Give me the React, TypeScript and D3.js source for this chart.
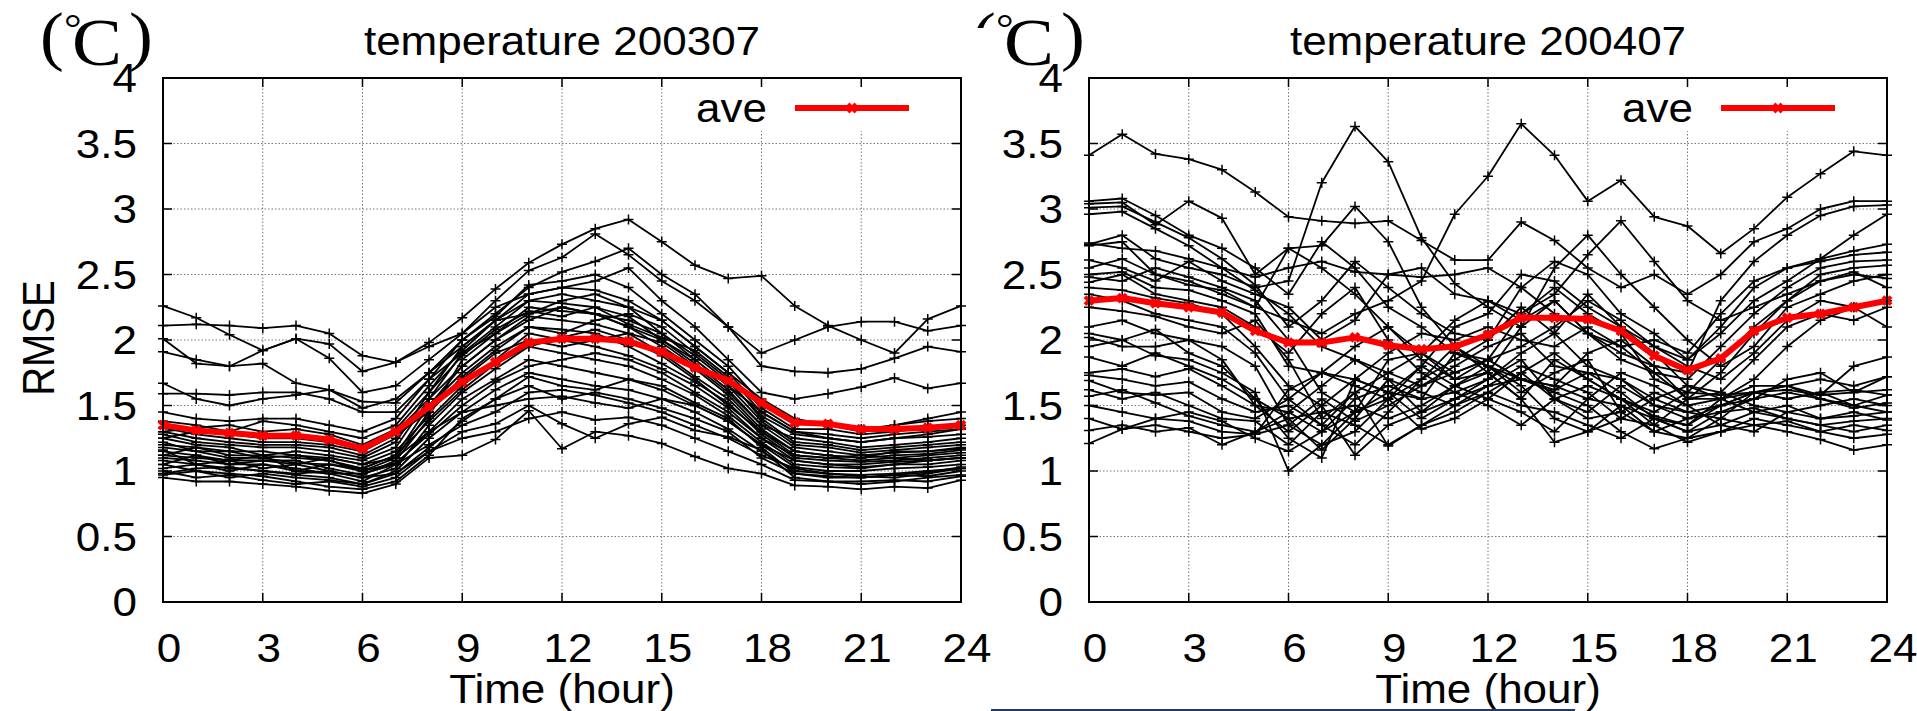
import React from 'react';
import * as d3 from 'd3';

// hours of the day on the x axis
const HOURS = [0, 1, 2, 3, 4, 5, 6, 7, 8, 9, 10, 11, 12, 13, 14, 15, 16, 17, 18, 19, 20, 21, 22, 23, 24];
const X_TICKS = [0, 3, 6, 9, 12, 15, 18, 21, 24];
const Y_TICKS = [0, 0.5, 1, 1.5, 2, 2.5, 3, 3.5, 4];
const Y_TICK_LABELS = ['0', '0.5', '1', '1.5', '2', '2.5', '3', '3.5', '4'];

const TITLE_2003 = 'temperature 200307';
const TITLE_2004 = 'temperature 200407';

// average RMSE (red line)
const AVE_2003 = [1.35, 1.31, 1.29, 1.27, 1.27, 1.24, 1.17, 1.3, 1.49, 1.68, 1.83, 1.98, 2.01, 2.01, 1.99, 1.91, 1.79, 1.69, 1.52, 1.37, 1.36, 1.32, 1.32, 1.33, 1.35];
const AVE_2004 = [2.3, 2.32, 2.28, 2.25, 2.21, 2.07, 1.98, 1.98, 2.02, 1.96, 1.93, 1.95, 2.04, 2.17, 2.17, 2.16, 2.07, 1.88, 1.77, 1.86, 2.07, 2.17, 2.2, 2.25, 2.3];

// RMSE of each station, July 2003
const STATIONS_2003 = [
  [2.26, 2.17, 2.04, 1.92, 2.01, 1.97, 1.76, 1.83, 1.95, 2.05, 2.3, 2.53, 2.63, 2.81, 2.65, 2.45, 2.3, 2.1, 1.9, 2.0, 2.1, 2.14, 2.14, 2.07, 2.11],
  [2.11, 2.12, 2.11, 2.09, 2.11, 2.05, 1.88, 1.83, 1.98, 2.17, 2.39, 2.59, 2.73, 2.85, 2.92, 2.75, 2.57, 2.47, 2.49, 2.26, 2.11, 2.0, 1.9, 2.16, 2.26],
  [2.01, 1.82, 1.8, 1.82, 1.67, 1.62, 1.53, 1.52, 1.75, 2.0, 2.2, 2.4, 2.52, 2.6, 2.7, 2.5, 2.35, 2.1, 1.8, 1.76, 1.75, 1.78, 1.86, 1.95, 1.91],
  [1.91, 1.85, 1.8, 1.92, 2.01, 1.86, 1.6, 1.65, 1.85, 2.05, 2.25, 2.35, 2.4, 2.45, 2.55, 2.3, 2.1, 1.85, 1.6, 1.55, 1.59, 1.64, 1.71, 1.63, 1.67],
  [1.67, 1.55, 1.5, 1.55, 1.58, 1.62, 1.48, 1.55, 1.75, 1.95, 2.15, 2.3, 2.35, 2.3, 2.25, 2.15, 1.95, 1.75, 1.55, 1.4, 1.35, 1.3, 1.35, 1.4, 1.45],
  [1.59, 1.59, 1.58, 1.6, 1.6, 1.55, 1.45, 1.45, 1.7, 1.9, 2.05, 2.2, 2.25, 2.2, 2.1, 2.0, 1.85, 1.65, 1.45, 1.3, 1.25, 1.22, 1.25, 1.28, 1.32],
  [0.95, 0.92, 0.92, 0.9, 0.88, 0.85, 0.83, 0.9, 1.1, 1.12, 1.24, 1.46, 1.17, 1.3, 1.27, 1.21, 1.11, 1.02, 0.98, 0.89, 0.88, 0.86, 0.88, 0.87, 0.93],
  [1.0, 0.95, 0.97, 0.93, 0.9, 0.92, 0.88, 0.95, 1.15, 1.3, 1.36, 1.5, 1.36, 1.25, 1.36, 1.41, 1.31, 1.26, 1.16, 0.95, 0.92, 0.9, 0.92, 0.95, 0.97],
  [1.05, 1.0, 0.98, 0.96, 0.92, 0.88, 0.86, 0.92, 1.12, 1.4, 1.55, 1.65, 1.55, 1.6, 1.55, 1.48, 1.4, 1.3, 1.1, 0.98, 0.95, 0.95, 0.97, 0.96, 1.0],
  [1.08, 1.05, 1.02, 1.0, 0.97, 0.95, 0.9, 1.0, 1.25, 1.45, 1.62, 1.75, 1.7, 1.65, 1.62, 1.55, 1.45, 1.32, 1.15, 1.0, 0.98, 0.97, 0.98, 1.0, 1.02],
  [1.1, 1.08, 1.05, 1.05, 1.02, 0.98, 0.92, 1.05, 1.3, 1.55, 1.7, 1.85, 1.8, 1.75, 1.7, 1.62, 1.5, 1.38, 1.2, 1.03, 1.0, 1.0, 1.02, 1.03, 1.05],
  [1.12, 1.1, 1.08, 1.02, 1.05, 1.0, 0.95, 1.02, 1.35, 1.6, 1.78, 1.95, 1.9, 1.85, 1.8, 1.7, 1.58, 1.42, 1.22, 1.05, 1.03, 1.02, 1.05, 1.05, 1.08],
  [1.15, 1.12, 1.05, 1.08, 1.08, 1.02, 0.97, 1.08, 1.4, 1.65, 1.85, 2.05, 2.0, 1.95, 1.88, 1.78, 1.65, 1.48, 1.25, 1.08, 1.05, 1.05, 1.07, 1.08, 1.1],
  [1.18, 1.15, 1.1, 1.1, 1.06, 1.05, 1.0, 1.1, 1.45, 1.72, 1.92, 2.1, 2.08, 2.05, 1.95, 1.82, 1.68, 1.52, 1.28, 1.1, 1.08, 1.07, 1.08, 1.1, 1.12],
  [1.2, 1.18, 1.12, 1.12, 1.1, 1.08, 1.02, 1.12, 1.5, 1.8, 2.0, 2.18, 2.15, 2.12, 2.05, 1.9, 1.72, 1.55, 1.3, 1.12, 1.1, 1.08, 1.1, 1.12, 1.14],
  [1.22, 1.15, 1.15, 1.15, 1.12, 1.1, 1.05, 1.15, 1.42, 1.85, 2.05, 2.25, 2.22, 2.2, 2.1, 1.95, 1.78, 1.58, 1.32, 1.15, 1.12, 1.1, 1.12, 1.13, 1.16],
  [1.25, 1.2, 1.18, 1.12, 1.15, 1.12, 1.08, 1.18, 1.55, 1.9, 2.1, 2.3, 2.28, 2.25, 2.18, 2.0, 1.82, 1.62, 1.35, 1.18, 1.15, 1.12, 1.14, 1.15, 1.18],
  [1.28, 1.22, 1.2, 1.18, 1.18, 1.15, 1.1, 1.22, 1.6, 1.95, 2.15, 2.2, 2.3, 2.35, 2.25, 2.05, 1.85, 1.65, 1.38, 1.2, 1.18, 1.14, 1.16, 1.18, 1.2],
  [1.3, 1.25, 1.22, 1.2, 1.2, 1.18, 1.12, 1.25, 1.5, 1.75, 1.95, 2.1, 2.05, 2.15, 2.2, 2.1, 1.9, 1.7, 1.4, 1.22, 1.2, 1.16, 1.18, 1.2, 1.22],
  [1.33, 1.28, 1.25, 1.22, 1.22, 1.2, 1.15, 1.28, 1.45, 1.7, 1.9, 2.0, 1.95, 2.0, 2.05, 1.98, 1.8, 1.6, 1.35, 1.25, 1.22, 1.18, 1.2, 1.22, 1.25],
  [1.02, 1.05, 1.0, 1.05, 1.0, 0.98, 0.98, 1.05, 1.2, 1.35, 1.45, 1.6, 1.62, 1.58, 1.52, 1.45, 1.35, 1.25, 1.12, 1.02, 0.98, 0.96, 0.95, 0.98, 1.02],
  [0.98, 1.02, 1.03, 1.0, 0.98, 1.0, 0.95, 0.98, 1.18, 1.38, 1.55, 1.72, 1.65, 1.62, 1.7, 1.65, 1.52, 1.4, 1.18, 0.98, 0.96, 0.95, 0.97, 0.99, 1.03],
  [1.12, 1.18, 1.15, 1.1, 1.12, 1.08, 1.0, 1.06, 1.28, 1.5, 1.68, 1.8, 1.85, 1.9, 1.85, 1.75, 1.6, 1.45, 1.25, 1.12, 1.1, 1.12, 1.1, 1.08, 1.1],
  [1.16, 1.05, 1.08, 1.12, 1.0, 1.05, 1.02, 1.12, 1.38, 1.62, 1.82, 1.95, 2.02, 2.08, 2.0, 1.88, 1.7, 1.5, 1.3, 1.15, 1.12, 1.1, 1.15, 1.15, 1.17],
  [1.25, 1.3, 1.28, 1.25, 1.25, 1.22, 1.18, 1.3, 1.55, 1.8, 2.0, 2.15, 2.25, 2.2, 2.15, 2.05, 1.88, 1.68, 1.42, 1.28, 1.25, 1.22, 1.25, 1.26, 1.28],
  [1.3, 1.33, 1.35, 1.3, 1.32, 1.28, 1.2, 1.32, 1.6, 1.88, 2.08, 2.22, 2.18, 2.25, 2.12, 2.02, 1.92, 1.72, 1.45, 1.3, 1.28, 1.25, 1.28, 1.3, 1.32],
  [1.38, 1.35, 1.3, 1.38, 1.35, 1.3, 1.25, 1.35, 1.65, 1.92, 2.15, 2.35, 2.4, 2.38, 2.3, 2.15, 1.95, 1.75, 1.48, 1.32, 1.32, 1.28, 1.3, 1.33, 1.35],
  [1.45, 1.4, 1.38, 1.4, 1.4, 1.35, 1.3, 1.4, 1.7, 2.0, 2.18, 2.42, 2.45, 2.5, 2.4, 2.2, 2.0, 1.8, 1.52, 1.38, 1.35, 1.32, 1.35, 1.38, 1.4],
  [1.05, 1.12, 1.08, 1.08, 1.05, 1.1, 1.05, 1.1, 1.3, 1.45, 1.5, 1.55, 1.57, 1.52, 1.48, 1.55, 1.5, 1.38, 1.2, 1.08, 1.05, 1.03, 1.05, 1.08, 1.1],
  [0.97, 1.0, 0.95, 0.98, 0.95, 0.93, 0.9, 0.98, 1.15, 1.25, 1.3, 1.4, 1.45, 1.39, 1.41, 1.35, 1.25, 1.15, 1.05, 0.93, 0.92, 0.92, 0.93, 0.92, 0.96],
];

// RMSE of each station, July 2004
const STATIONS_2004 = [
  [3.41, 3.57, 3.42, 3.38, 3.3, 3.13, 2.94, 2.91, 2.89, 2.91, 2.76, 2.61, 2.61, 2.9, 2.76, 2.55, 2.4, 2.5, 2.35, 2.5, 2.75, 2.85, 3.0, 3.06, 3.06],
  [2.55, 2.62, 2.5, 2.42, 2.38, 2.25, 2.15, 2.05, 2.2, 2.3, 2.45, 2.96, 3.25, 3.65, 3.41, 3.06, 3.22, 2.94, 2.87, 2.66, 2.85, 3.09, 3.27, 3.44, 3.41],
  [2.73, 2.8, 2.62, 2.55, 2.5, 2.4, 2.45, 3.2, 3.63, 3.36, 2.78, 2.43, 2.25, 2.1, 2.3, 2.05, 1.85, 1.75, 1.7, 1.95, 2.2, 2.4, 2.55, 2.6, 2.61],
  [3.06, 3.08, 2.95, 2.8, 2.7, 2.55, 2.35, 2.75, 2.55, 2.25, 2.1, 1.9, 1.85, 1.95, 2.1, 2.3, 2.15, 1.95, 1.85, 2.1, 2.4, 2.55, 2.62, 2.68, 2.73],
  [3.04, 3.05, 2.88, 3.06, 2.93, 2.5, 2.7, 2.72, 3.02, 2.75, 2.25, 1.95, 1.8, 1.7, 1.65, 1.9, 2.0, 1.8, 1.55, 1.75, 2.05, 2.3, 2.5, 2.55, 2.57],
  [3.01, 3.02, 2.9, 2.78, 2.62, 2.42, 2.1, 2.3, 2.6, 2.4, 2.2, 2.05, 2.0, 2.4, 2.6, 2.5, 2.2, 2.05, 1.85, 2.05, 2.3, 2.45, 2.62, 2.8, 2.96],
  [2.96, 2.98, 2.85, 2.72, 2.55, 2.38, 2.2, 1.95, 1.85, 1.75, 1.9, 2.15, 2.3, 2.2, 2.35, 2.65, 2.91, 2.6, 2.3, 2.15, 2.25, 2.35, 2.45, 2.5, 2.47],
  [2.74, 2.7, 2.68, 2.62, 2.55, 2.48, 2.55, 2.6, 2.52, 2.5, 2.48, 2.5, 2.55, 2.4, 2.2, 2.05, 1.95, 2.0, 1.9, 2.2, 2.45, 2.55, 2.6, 2.65, 2.67],
  [2.72, 2.75, 2.5, 2.45, 2.35, 2.25, 2.7, 2.55, 2.35, 2.1, 1.85, 1.7, 1.75, 2.1, 2.55, 2.8, 2.5, 2.25, 2.0, 1.8, 1.95, 2.25, 2.35, 2.45, 2.5],
  [2.61, 2.55, 2.45, 2.6, 2.45, 2.35, 2.25, 2.0, 2.15, 2.5, 2.55, 2.35, 2.3, 2.15, 2.3, 2.05, 1.9, 1.8, 1.75, 2.3, 2.6, 2.8, 2.95, 3.02, 3.03],
  [2.5, 2.52, 2.4, 2.38, 2.3, 2.2, 1.8, 1.75, 1.95, 2.1, 1.9, 1.7, 1.85, 2.2, 2.4, 2.2, 2.05, 1.7, 1.6, 1.85, 2.1, 2.3, 2.45, 2.52, 2.4],
  [2.48, 2.45, 2.55, 2.48, 2.4, 2.3, 2.0, 1.6, 1.45, 1.55, 1.8, 2.1, 2.2, 2.5, 2.45, 2.25, 2.1, 1.95, 1.8, 1.7, 1.9, 2.15, 2.3, 2.25, 2.3],
  [2.44, 2.5, 2.35, 2.3, 2.25, 2.1, 1.9, 2.2, 2.4, 2.0, 1.75, 1.6, 1.7, 1.9, 2.05, 2.35, 2.1, 1.9, 1.65, 1.6, 1.85, 2.1, 2.2, 2.15, 2.25],
  [2.4, 2.38, 2.32, 2.28, 2.2, 1.95, 1.65, 1.5, 1.7, 1.9, 2.05, 2.0, 2.1, 2.0, 1.95, 2.1, 1.95, 1.75, 1.55, 1.55, 1.7, 1.95, 2.15, 2.25, 2.1],
  [2.35, 2.3, 2.2, 2.15, 2.1, 1.9, 1.55, 1.35, 1.2, 1.45, 1.7, 1.85, 2.0, 2.25, 2.05, 1.8, 1.7, 1.55, 1.45, 1.5, 1.6, 1.65, 1.58, 1.8, 1.87],
  [2.25, 2.22, 2.18, 2.1, 2.05, 2.15, 1.85, 1.4, 1.6, 1.75, 1.65, 1.8, 1.95, 2.05, 1.8, 1.75, 1.6, 1.4, 1.3, 1.45, 1.55, 1.7, 1.75, 1.6, 1.72],
  [2.1, 2.15, 2.05, 2.0, 1.95, 1.8, 1.35, 1.2, 1.45, 1.85, 1.9, 1.75, 1.85, 1.7, 1.65, 1.55, 1.5, 1.3, 1.25, 1.4, 1.6, 1.65, 1.55, 1.5, 1.58],
  [2.05, 2.0, 2.08, 1.9, 1.8, 1.55, 1.25, 1.1, 1.7, 1.6, 1.55, 1.9, 1.8, 1.6, 1.75, 1.85, 1.45, 1.6, 1.5, 1.55, 1.65, 1.65, 1.7, 1.65, 1.72],
  [2.02, 1.95, 1.95, 2.0, 1.85, 1.5, 1.45, 1.65, 1.85, 1.7, 1.45, 1.55, 1.7, 1.85, 1.55, 1.45, 1.65, 1.5, 1.4, 1.5, 1.6, 1.55, 1.6, 1.62, 1.58],
  [1.95, 2.0, 1.88, 1.85, 1.75, 1.6, 1.0, 1.2, 1.3, 1.55, 1.7, 1.95, 1.75, 1.55, 1.85, 1.7, 1.55, 1.35, 1.55, 1.6, 1.5, 1.45, 1.4, 1.45, 1.39],
  [1.87, 1.8, 1.9, 1.8, 1.7, 1.55, 1.4, 1.16, 1.4, 1.7, 1.6, 1.5, 1.65, 1.7, 1.6, 1.5, 1.3, 1.17, 1.25, 1.3, 1.4, 1.35, 1.3, 1.35, 1.31],
  [1.75, 1.78, 1.72, 1.78, 1.65, 1.5, 1.3, 1.5, 1.12, 1.35, 1.45, 1.65, 1.8, 1.65, 1.4, 1.3, 1.4, 1.35, 1.22, 1.3, 1.35, 1.3, 1.24, 1.16, 1.2],
  [1.73, 1.7, 1.65, 1.68, 1.55, 1.45, 1.5, 1.35, 1.6, 1.19, 1.35, 1.5, 1.6, 1.75, 1.55, 1.4, 1.45, 1.3, 1.4, 1.45, 1.48, 1.4, 1.35, 1.38, 1.4],
  [1.69, 1.6, 1.58, 1.6, 1.45, 1.4, 1.55, 1.75, 1.65, 1.55, 1.32, 1.4, 1.55, 1.45, 1.3, 1.55, 1.75, 1.65, 1.5, 1.35, 1.3, 1.45, 1.5, 1.55, 1.5],
  [1.62, 1.55, 1.6, 1.5, 1.4, 1.38, 1.2, 1.45, 1.5, 1.4, 1.5, 1.65, 1.75, 1.55, 1.22, 1.3, 1.5, 1.4, 1.35, 1.55, 1.6, 1.55, 1.6, 1.5, 1.45],
  [1.57, 1.62, 1.52, 1.42, 1.35, 1.3, 1.45, 1.3, 1.55, 1.65, 1.55, 1.6, 1.5, 1.35, 1.55, 1.65, 1.55, 1.45, 1.6, 1.58, 1.6, 1.62, 1.58, 1.6, 1.62],
  [1.5, 1.45, 1.4, 1.38, 1.3, 1.28, 1.62, 1.75, 1.7, 1.6, 1.4, 1.55, 1.65, 1.8, 1.7, 1.6, 1.4, 1.55, 1.65, 1.55, 1.45, 1.5, 1.4, 1.42, 1.45],
  [1.4, 1.32, 1.35, 1.3, 1.25, 1.28, 1.35, 1.55, 1.38, 1.5, 1.65, 1.75, 1.85, 1.7, 1.62, 1.75, 1.7, 1.5, 1.45, 1.4, 1.35, 1.38, 1.3, 1.25, 1.28],
  [1.31, 1.35, 1.3, 1.33, 1.2, 1.3, 1.4, 1.45, 1.35, 1.2, 1.35, 1.45, 1.6, 1.5, 1.45, 1.35, 1.25, 1.4, 1.3, 1.35, 1.45, 1.4, 1.35, 1.3, 1.35],
  [1.21, 1.32, 1.4, 1.45, 1.38, 1.25, 1.15, 1.3, 1.45, 1.6, 1.8, 1.65, 1.55, 1.75, 1.9, 1.7, 1.55, 1.42, 1.35, 1.5, 1.55, 1.6, 1.55, 1.48, 1.52],
];

const W = 1917;
const H = 711;
const TOP = 78;
const BOTTOM = 602;
const SX = 1.1; // glyphs in the source are a bit wide
const SANS = '"Liberation Sans", Arial, Helvetica, sans-serif';
const SERIF = '"Liberation Serif", "Times New Roman", serif';

const SText = ({ x, y, anchor = 'middle', size = 40, family = SANS, children }: any) => (
  <g transform={`translate(${x},${y}) scale(${SX},1)`}>
    <text x={0} y={0} textAnchor={anchor} fontFamily={family} fontSize={size} fill="#000">
      {children}
    </text>
  </g>
);

const plusPath = (x: number, y: number, r = 5) => `M${x - r},${y}H${x + r}M${x},${y - r}V${y + r}`;
const crossPath = (x: number, y: number, r = 4) => `M${x - r},${y - r}L${x + r},${y + r}M${x - r},${y + r}L${x + r},${y - r}`;

const Panel = ({ left, right, title, ave, stations, yLabel }: any) => {
  const x = d3.scaleLinear().domain([0, 24]).range([left, right]);
  const y = d3.scaleLinear().domain([0, 4]).range([BOTTOM, TOP]);
  const line = d3.line<number>().x((_, i) => x(HOURS[i])).y(d => y(d));
  const legX0 = right - 166;
  const legX1 = right - 52;
  const legY = 108;

  return (
    <g>
      {/* grid */}
      <g stroke="#777" strokeWidth={1} strokeDasharray="1.5,2" fill="none">
        {Y_TICKS.filter(t => t > 0 && t < 4).map(t => (
          <line key={'gy' + t} x1={left} x2={right} y1={y(t)} y2={y(t)} />
        ))}
        {X_TICKS.filter(t => t > 0 && t < 24).map(t => (
          <line key={'gx' + t} x1={x(t)} x2={x(t)} y1={TOP} y2={BOTTOM} />
        ))}
      </g>
      {/* legend blanks the grid behind it */}
      <rect x={right - 272} y={86} width={224} height={45} fill="#fff" />

      {/* stations */}
      <g fill="none" stroke="#000" strokeWidth={1.8} strokeLinejoin="round">
        {stations.map((s: number[], k: number) => (
          <g key={'s' + k}>
            <path d={line(s) || ''} />
            <path d={s.map((v, i) => plusPath(x(HOURS[i]), y(v))).join('')} strokeWidth={1.5} />
          </g>
        ))}
      </g>

      {/* average */}
      <g fill="none" stroke="#ff0000" strokeLinejoin="round">
        <path d={line(ave) || ''} strokeWidth={6} />
        <path d={ave.map((v: number, i: number) => crossPath(x(HOURS[i]), y(v))).join('')} strokeWidth={4} />
      </g>

      {/* frame and ticks */}
      <g stroke="#000" strokeWidth={1.5}>
        {Y_TICKS.map(t => (
          <g key={'ty' + t}>
            <line x1={left} x2={left + 9} y1={y(t)} y2={y(t)} />
            <line x1={right} x2={right - 9} y1={y(t)} y2={y(t)} />
          </g>
        ))}
        {X_TICKS.map(t => (
          <g key={'tx' + t}>
            <line x1={x(t)} x2={x(t)} y1={BOTTOM} y2={BOTTOM - 9} />
            <line x1={x(t)} x2={x(t)} y1={TOP} y2={TOP + 9} />
          </g>
        ))}
      </g>
      <rect x={left} y={TOP} width={right - left} height={BOTTOM - TOP} fill="none" stroke="#000" strokeWidth={2} />

      {/* legend */}
      <SText x={legX0 - 28} y={122} anchor="end">ave</SText>
      <line x1={legX0} x2={legX1} y1={legY} y2={legY} stroke="#ff0000" strokeWidth={6} />
      <path d={crossPath((legX0 + legX1) / 2, legY)} stroke="#ff0000" strokeWidth={4} fill="none" />

      {/* tick labels */}
      {Y_TICKS.map((t, i) => (
        <SText key={'ly' + t} x={left - 26} y={y(t) + 14} anchor="end">{Y_TICK_LABELS[i]}</SText>
      ))}
      {X_TICKS.map(t => (
        <SText key={'lx' + t} x={x(t) + 6} y={662}>{String(t)}</SText>
      ))}

      <SText x={(left + right) / 2} y={703}>Time (hour)</SText>
      <SText x={(left + right) / 2} y={55}>{title}</SText>

      {yLabel && (
        <g transform={`translate(54,338) scale(${SX},1) rotate(-90)`}>
          <text textAnchor="middle" fontFamily={SANS} fontSize={40} fill="#000">RMSE</text>
        </g>
      )}
    </g>
  );
};

// the "(°C)" unit mark drawn over each panel
const Unit = ({ dx, clipOpen }: any) => (
  <g transform={`translate(${dx},0)`}>
    <g clipPath={clipOpen ? 'url(#openClip)' : undefined}>
      <SText x={40} y={58} size={65} anchor="start" family={SERIF}>(</SText>
    </g>
    <SText x={64} y={42} size={40} anchor="start" family={SERIF}>°</SText>
    <SText x={72} y={65} size={68} anchor="start" family={SERIF}>C</SText>
    <SText x={129} y={58} size={65} anchor="start" family={SERIF}>)</SText>
  </g>
);

const App = () => (
  <svg width={W} height={H} viewBox={`0 0 ${W} ${H}`} style={{ position: 'absolute', left: 0, top: 0, background: '#fff' }}>
    <defs>
      <clipPath id="openClip">
        <rect x={0} y={0} width={80} height={28} />
      </clipPath>
    </defs>
    <rect width={W} height={H} fill="#fff" />
    <Panel left={163} right={961} title={TITLE_2003} ave={AVE_2003} stations={STATIONS_2003} yLabel />
    <Panel left={1089} right={1887} title={TITLE_2004} ave={AVE_2004} stations={STATIONS_2004} />
    <Unit dx={0} />
    <Unit dx={932} clipOpen />
    <rect x={991} y={709} width={584} height={2} fill="#1f3a66" />
  </svg>
);

export default App;
